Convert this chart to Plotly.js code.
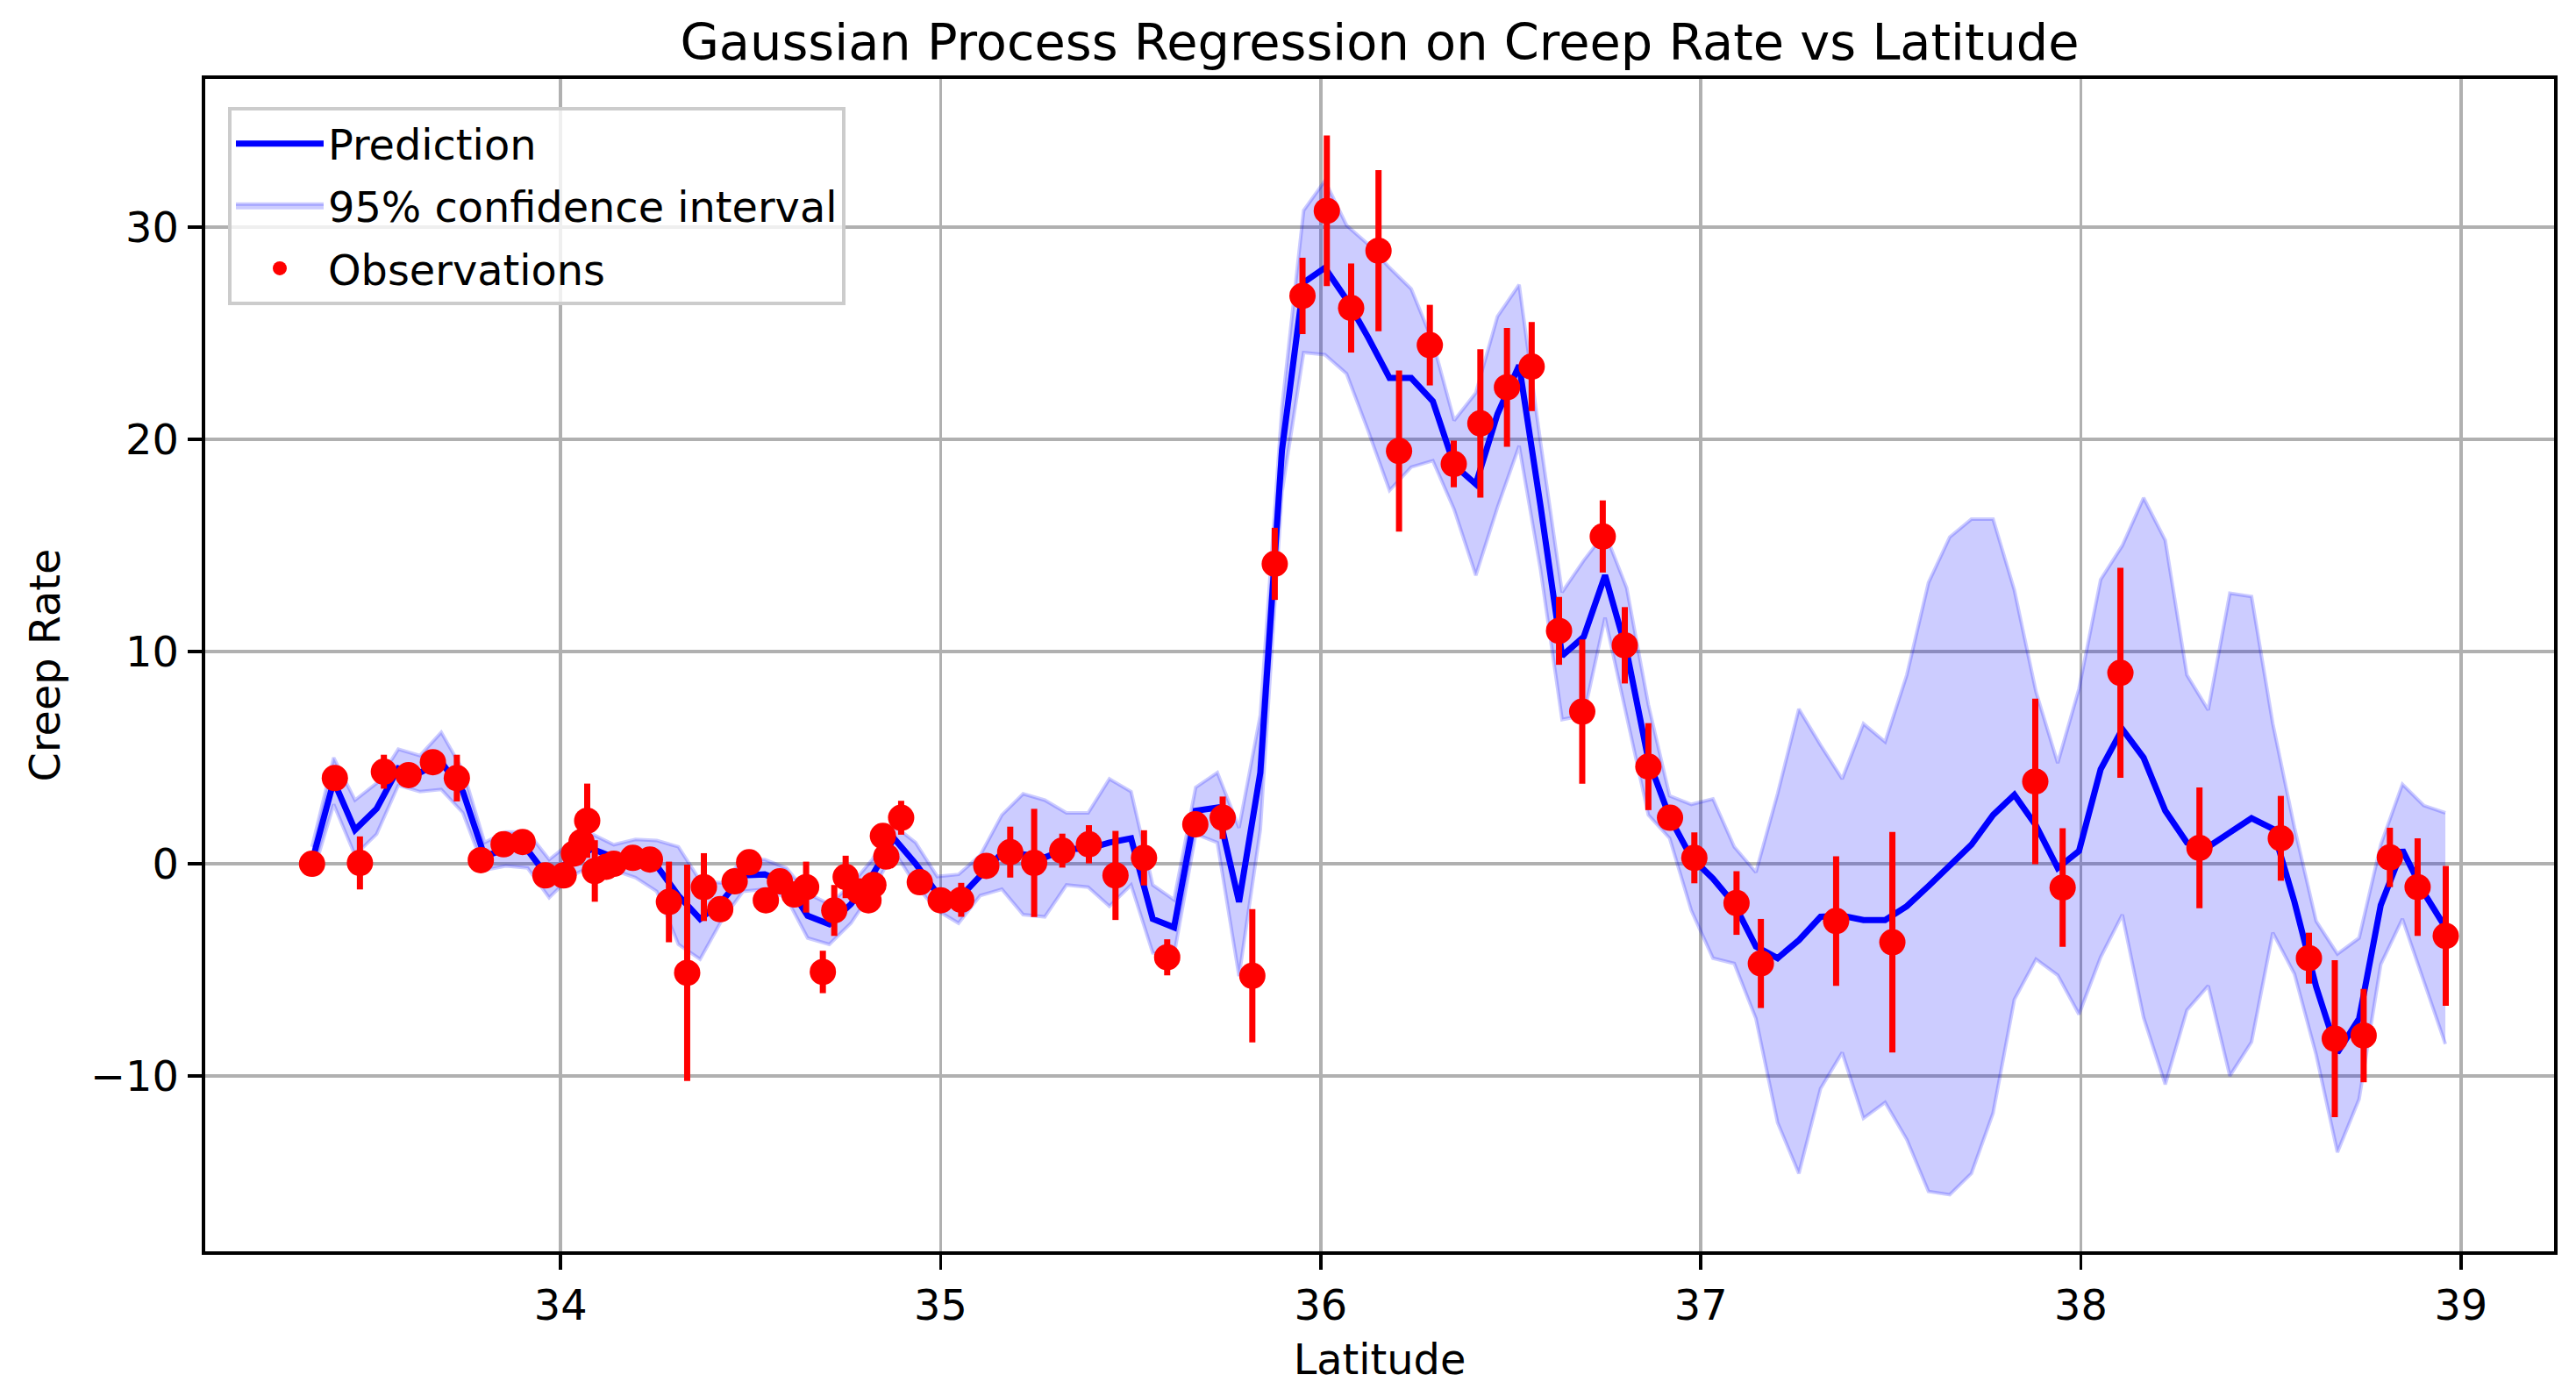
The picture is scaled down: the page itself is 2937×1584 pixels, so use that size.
<!DOCTYPE html>
<html><head><meta charset="utf-8">
<script src="https://cdn.plot.ly/plotly-3.0.1.min.js"></script>
<style>html,body{margin:0;padding:0;background:#fff}#chart{width:2937px;height:1584px}</style>
</head><body><div id="chart"></div>
<script>
// Prediction grid (latitude)
const gridLat = [33.346,33.403,33.459,33.516,33.573,33.630,33.686,33.743,33.800,33.856,
33.913,33.970,34.026,34.083,34.140,34.197,34.253,34.310,34.367,34.423,
34.480,34.537,34.594,34.650,34.707,34.764,34.820,34.877,34.934,34.991,
35.047,35.104,35.161,35.217,35.274,35.331,35.388,35.444,35.501,35.558,
35.614,35.671,35.728,35.785,35.841,35.898,35.955,36.011,36.068,36.125,
36.181,36.238,36.295,36.351,36.408,36.465,36.522,36.578,36.635,36.692,
36.748,36.805,36.862,36.918,36.975,37.032,37.088,37.145,37.202,37.258,
37.315,37.372,37.428,37.485,37.542,37.599,37.655,37.712,37.769,37.825,
37.882,37.939,37.995,38.052,38.109,38.165,38.222,38.279,38.335,38.392,
38.449,38.505,38.562,38.619,38.675,38.732,38.789,38.846,38.902,38.959];

const predMean = [0.1,3.9,1.6,2.6,4.5,4.3,4.8,3.4,0.35,0.7,
0.65,-0.7,0.2,0.7,0.3,0.25,-0.1,-1.5,-2.6,-1.8,
-0.55,-0.5,-0.9,-2.45,-2.85,-1.9,-0.55,1.2,0.0,-1.4,
-1.65,-0.55,0.5,0.45,0.3,0.7,0.7,1.0,1.2,-2.6,
-3.0,2.5,2.65,-1.8,4.3,19.5,27.4,28.1,26.6,24.8,
22.9,22.9,21.8,18.8,17.9,21.2,23.5,16.9,9.8,10.7,
13.6,10.0,4.9,2.2,0.3,-0.7,-1.9,-3.9,-4.45,-3.6,
-2.5,-2.45,-2.65,-2.65,-2.0,-1.05,-0.1,0.9,2.3,3.25,
1.8,-0.2,0.6,4.45,6.35,5.0,2.5,1.0,0.8,1.45,
2.15,1.65,-1.8,-5.8,-8.9,-7.3,-1.95,0.65,-1.35,-3.0];

const ciUpper = [0.8,5.0,3.0,3.8,5.4,5.1,6.2,4.4,1.0,1.5,
1.5,0.2,1.0,1.4,0.9,1.15,1.1,0.8,-0.8,-0.9,
0.2,0.2,-0.2,-1.4,-1.9,-1.0,0.2,1.8,1.0,-0.6,
-0.5,0.4,2.3,3.3,3.0,2.4,2.4,4.0,3.4,-1.0,
-1.7,3.6,4.3,1.7,7.0,21.5,30.8,32.2,30.1,29.2,
28.1,27.1,24.6,20.9,22.2,25.8,27.3,19.9,12.8,14.3,
15.6,13.0,7.5,3.2,2.8,3.06,0.8,-0.4,3.3,7.3,
5.6,4.0,6.6,5.75,8.9,13.25,15.4,16.25,16.25,12.9,
8.1,4.75,8.25,13.4,15.0,17.25,15.25,8.9,7.25,12.75,
12.6,6.6,1.7,-2.7,-4.25,-3.5,0.9,3.75,2.75,2.4];

const ciLower = [-0.6,2.8,0.4,1.4,3.7,3.4,3.5,2.4,-0.3,-0.1,
-0.2,-1.6,-0.6,-0.1,-0.3,-0.65,-1.3,-3.8,-4.5,-2.7,
-1.3,-1.2,-1.6,-3.5,-3.8,-2.8,-1.3,0.6,-1.0,-2.2,
-2.8,-1.5,-1.2,-2.4,-2.5,-1.0,-1.1,-2.0,-1.0,-4.2,
-4.3,1.4,1.0,-5.3,1.6,17.5,24.1,24.0,23.1,20.4,
17.6,18.7,19.0,16.7,13.6,16.8,19.7,13.9,6.8,7.0,
11.6,7.0,2.3,1.2,-2.2,-4.45,-4.7,-7.3,-12.2,-14.6,
-10.6,-8.9,-12.0,-11.25,-13.0,-15.45,-15.6,-14.6,-11.75,-6.4,
-4.5,-5.25,-7.1,-4.4,-2.4,-7.25,-10.4,-6.9,-5.75,-10.0,
-8.4,-3.25,-5.2,-9.0,-13.6,-11.1,-4.75,-2.6,-5.5,-8.5];

// Observations
const obsLat = [33.346,33.406,33.472,33.535,33.600,33.664,33.727,33.790,33.850,33.900,
33.960,34.008,34.035,34.055,34.070,34.090,34.120,34.140,34.190,34.235,
34.285,34.333,34.377,34.420,34.458,34.496,34.540,34.577,34.615,34.646,
34.690,34.720,34.750,34.785,34.810,34.823,34.848,34.857,34.896,34.945,
35.000,35.054,35.120,35.183,35.246,35.320,35.390,35.460,35.535,35.596,
35.670,35.742,35.820,35.879,35.952,36.016,36.080,36.152,36.206,36.287,
36.350,36.420,36.490,36.555,36.627,36.688,36.742,36.800,36.862,36.919,
36.983,37.094,37.158,37.356,37.504,37.880,37.952,38.104,38.312,38.526,
38.600,38.668,38.744,38.813,38.886,38.960];
const obsRate = [0.0,4.04,0.04,4.34,4.18,4.79,4.04,0.17,0.92,1.03,
-0.55,-0.55,0.48,1.03,2.03,-0.34,-0.14,0.0,0.28,0.2,
-1.8,-5.14,-1.1,-2.14,-0.83,0.07,-1.72,-0.83,-1.45,-1.1,
-5.1,-2.2,-0.62,-1.3,-1.72,-1.0,1.31,0.34,2.17,-0.87,
-1.72,-1.7,-0.1,0.55,0.04,0.62,0.92,-0.55,0.28,-4.41,
1.86,2.17,-5.28,14.14,26.77,30.78,26.2,28.9,19.46,24.45,
18.85,20.76,22.46,23.44,10.98,7.17,15.43,10.3,4.58,2.17,
0.28,-1.85,-4.7,-2.7,-3.7,3.88,-1.12,9.0,0.75,1.2,
-4.45,-8.25,-8.1,0.3,-1.1,-3.4];
const obsErr = [0.3,0.5,1.25,0.8,0.4,0.5,1.1,0.3,0.3,0.3,
0.3,0.3,0.4,0.5,1.75,1.45,0.4,0.3,0.3,0.3,
1.9,5.1,1.6,0.4,0.3,0.3,0.3,0.3,0.5,1.2,
1.0,1.2,1.0,0.5,0.4,0.4,0.4,0.4,0.8,0.3,
0.3,0.8,0.3,1.2,2.55,0.8,0.9,2.1,1.3,0.85,
0.4,1.0,3.14,1.7,1.8,3.55,2.1,3.8,3.8,1.9,
1.1,3.5,2.8,2.1,1.6,3.4,1.7,1.8,2.05,0.3,
1.2,1.5,2.1,3.05,5.2,3.9,2.8,4.95,2.85,2.0,
1.2,3.7,2.2,1.4,2.3,3.3];

const xTicks = [34,35,36,37,38,39];
const yTicks = [-10,0,10,20,30];

const traces = [
  {
    x: gridLat, y: ciUpper, type: 'scatter', mode: 'lines',
    line: {color: 'rgba(0,0,255,0.2)', width: 4},
    legendgroup: 'b', legendrank: 2, showlegend: false, hoverinfo: 'skip'
  },
  {
    x: gridLat, y: ciLower, type: 'scatter', mode: 'lines',
    fill: 'tonexty', fillcolor: 'rgba(0,0,255,0.2)',
    line: {color: 'rgba(0,0,255,0.2)', width: 4},
    name: '95% confidence interval', legendgroup: 'b', legendrank: 2,
    hoverinfo: 'skip'
  },
  {
    x: gridLat, y: predMean, type: 'scatter', mode: 'lines',
    line: {color: '#0000ff', width: 7},
    name: 'Prediction', legendgroup: 'a', legendrank: 1
  },
  {
    x: obsLat, y: obsRate, type: 'scatter', mode: 'markers',
    marker: {color: '#ff0000', size: 30},
    error_y: {type: 'data', array: obsErr, visible: true, color: '#ff0000', thickness: 7, width: 0},
    name: 'Observations', legendgroup: 'c', legendrank: 3
  }
];

const axisCommon = {
  showline: true, linecolor: '#000', linewidth: 3.8, mirror: true,
  ticks: 'outside', ticklen: 16.7, tickwidth: 3.8, tickcolor: '#000',
  showgrid: true, gridcolor: '#b0b0b0', gridwidth: 3.8,
  zeroline: false, tickfont: {size: 47.8, color: '#000'}
};

const layout = {
  width: 2937, height: 1584,
  paper_bgcolor: '#fff', plot_bgcolor: '#fff',
  font: {family: 'DejaVu Sans', size: 47.8, color: '#000'},
  margin: {l: 234, r: 25, t: 90, b: 157, pad: 0},
  title: {text: 'Gaussian Process Regression on Creep Rate vs Latitude',
          font: {size: 57.4, color: '#000'}, x: 0.5, xref: 'paper',
          y: 0.970, yref: 'container', yanchor: 'middle'},
  xaxis: Object.assign({}, axisCommon, {
    range: [33.065, 39.245], tickvals: xTicks, ticktext: xTicks.map(String),
    title: {text: 'Latitude', font: {size: 47.8, color: '#000'}, standoff: 20}
  }),
  yaxis: Object.assign({}, axisCommon, {
    range: [-18.27, 37.0], tickvals: yTicks,
    title: {text: 'Creep Rate', font: {size: 47.8, color: '#000'}, standoff: 20}
  }),
  showlegend: true,
  legend: {
    x: 0.0097, y: 0.976, xanchor: 'left', yanchor: 'top',
    bgcolor: 'rgba(255,255,255,0.8)', bordercolor: '#cccccc', borderwidth: 4,
    font: {size: 47.8, color: '#000'},
    traceorder: 'grouped', tracegroupgap: 6, itemwidth: 100
  }
};

Plotly.newPlot('chart', traces, layout, {displayModeBar: false, staticPlot: true});
</script>
</body></html>
